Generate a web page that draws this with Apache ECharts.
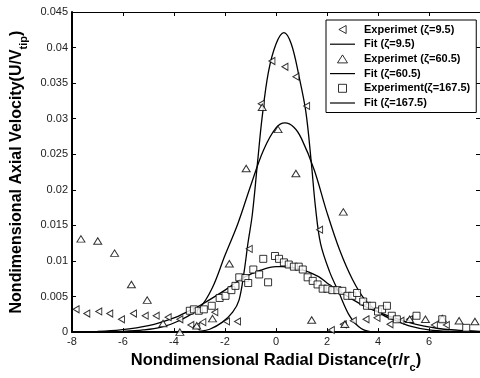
<!DOCTYPE html>
<html><head><meta charset="utf-8">
<script src="https://cdn.jsdelivr.net/npm/echarts@6/dist/echarts.min.js"></script>
<style>html,body{margin:0;padding:0;background:#fff}#c{width:480px;height:378px}</style>
</head><body><div id="c"></div>
<script>
// Experiment zeta=9.5 (left-pointing triangles)
const exp95 = [[-7.84,0.0032],[-7.42,0.0026],[-6.95,0.0029],[-6.52,0.0026],[-6.06,0.0018],[-5.59,0.0026],[-5.13,0.0023],[-4.70,0.0023],[-4.23,0.0021],[-3.77,0.0018],[-3.34,0.0010],[-3.11,0.0008],[-2.87,0.0014],[-2.40,0.0028],[-1.94,0.0015],[-1.51,0.0015],
 [-1.05,0.0117],[-0.58,0.0321],[-0.16,0.0381],[0.35,0.0373],[0.78,0.0359],[1.20,0.0318],[1.71,0.0144],
 [2.17,0.0003],[2.64,0.0011],[3.03,0.0016],[3.53,0.0018],[3.96,0.0020],[4.47,0.0011],[4.90,0.0016],[5.24,0.0018],[6.21,0.0010],[6.68,0.0010]];
// Experiment zeta=60.5 (up triangles)
const exp605 = [[-7.65,0.0131],[-6.99,0.0128],[-6.33,0.0111],[-5.67,0.0067],[-5.05,0.0045],[-4.43,0.0012],[-3.77,0.0000],[-3.11,0.0009],[-2.49,0.0019],[-1.83,0.0096],
 [-1.17,0.0230],[-0.54,0.0316],[0.08,0.0285],[0.78,0.0223],[1.40,0.0017],[2.64,0.0169],[2.70,0.0011],
 [5.24,0.0018],[5.86,0.0018],[6.52,0.0019],[7.18,0.0016],[7.80,0.0015]];
// Experiment zeta=167.5 (squares)
const exp1675 = [[-3.38,0.0030],[-3.22,0.0032],[-3.03,0.0030],[-2.83,0.0032],[-2.52,0.0037],[-2.21,0.0048],[-1.98,0.0051],[-1.75,0.0059],[-1.59,0.0065],[-1.44,0.0077],[-1.20,0.0076],[-1.09,0.0069],[-0.89,0.0088],[-0.66,0.0081],[-0.50,0.0103],[-0.31,0.0070],[-0.04,0.0107],[0.12,0.0103],[0.31,0.0098],[0.50,0.0095],[0.70,0.0092],[0.89,0.0092],[1.05,0.0088],[1.24,0.0077],[1.44,0.0072],[1.63,0.0067],[1.83,0.0061],[2.02,0.0061],[2.21,0.0059],[2.41,0.0059],[2.60,0.0058],[2.80,0.0051],[2.99,0.0051],[3.18,0.0055],[3.42,0.0043],[3.57,0.0037],[3.77,0.0037],[4.00,0.0029],[4.16,0.0032],[4.35,0.0037],[4.54,0.0023],[4.74,0.0018],[5.51,0.0023],[6.52,0.0018],[7.46,0.0006]];
// Fit curves
const fit95 = [[-3.4,0],[-3.0,0.0001],[-2.6,0.0004],[-2.1,0.0014],[-1.7,0.0028],[-1.45,0.0045],[-1.25,0.0085],[-1.1,0.0125],[-0.93,0.0165],[-0.72,0.024],[-0.55,0.0300],[-0.3,0.0365],[0,0.0405],[0.31,0.0421],[0.6,0.0405],[0.9,0.036],[1.17,0.031],[1.38,0.024],[1.55,0.0175],[1.75,0.0124],[2.1,0.0085],[2.45,0.0057],[2.9,0.0022],[3.34,0.0005],[3.8,0]];
const fit605 = [[-6,0.0001],[-5.2,0.0003],[-4.5,0.0007],[-3.8,0.0016],[-3.0,0.0034],[-2.5,0.0062],[-2.0,0.0108],[-1.5,0.0152],[-1.0,0.0205],[-0.5,0.0255],[0,0.0287],[0.35,0.0294],[0.7,0.0288],[1.0,0.0272],[1.5,0.0228],[2.0,0.0168],[2.5,0.0115],[3.0,0.0074],[3.5,0.0045],[4.1,0.0026],[4.7,0.0016],[5.3,0.0008],[6.0,0.0003],[6.8,0.0001]];
const fit1675 = [[-7,0.0001],[-6.1,0.0003],[-5,0.0009],[-4,0.002],[-3.4,0.003],[-3,0.0037],[-2,0.0059],[-1.3,0.0076],[-0.6,0.0087],[0,0.0092],[0.25,0.0092],[1,0.0088],[1.67,0.0078],[2.0,0.0069],[2.5,0.0057],[3.0,0.0046],[3.5,0.0036],[4.0,0.0028],[4.9,0.0017],[5.5,0.0011],[6.6,0.0004],[7.5,0.0002],[8,0.0001]];
const names = ['Experimet (ζ=9.5)','Fit (ζ=9.5)','Experimet (ζ=60.5)','Fit (ζ=60.5)','Experiment(ζ=167.5)','Fit (ζ=167.5)'];

const FONT = '"Liberation Sans", Arial, sans-serif';
const LT = 'path://M10,0 L0,5.5 L10,11 Z';
const UT = 'path://M5,0 L10,8 L0,8 Z';
const SQ = 'path://M0,0 L10,0 L10,10 L0,10 Z';
const LN = 'path://M0,0 L25,0 L25,1.2 L0,1.2 Z';
const hollow = {color:'#fff', borderColor:'#000', borderWidth:1};
const lineSt = {color:'#000', width:1.3};

const chart = echarts.init(document.getElementById('c'), null, {renderer:'canvas'});
const axisCommon = {min:-8, max:8, interval:2};
chart.setOption({
  animation:false,
  backgroundColor:'#fff',
  grid:{left:72, right:-3, top:12, bottom:38, containLabel:false},
  textStyle:{fontFamily:FONT},
  xAxis:[
    {type:'value', position:'bottom', ...axisCommon,
     axisLine:{show:true, onZero:false, lineStyle:{color:'#000', width:2}},
     axisTick:{show:true, inside:true, length:4, lineStyle:{color:'#000'}},
     axisLabel:{color:'#222', fontSize:11, fontFamily:FONT, margin:4, showMaxLabel:false},
     splitLine:{show:false},
     name:'Nondimensional Radial Distance(r/r{s|c})', nameLocation:'middle', nameGap:14,
     nameTextStyle:{color:'#000', fontSize:16.5, fontWeight:'bold', fontFamily:FONT,
       rich:{s:{fontSize:11, fontWeight:'bold', fontFamily:FONT, padding:[14,0,0,0], color:'#000'}}}},
    {type:'value', position:'top', ...axisCommon,
     axisLine:{show:true, onZero:false, lineStyle:{color:'#000', width:1}},
     axisTick:{show:true, inside:true, length:4, lineStyle:{color:'#000'}},
     axisLabel:{show:false}, splitLine:{show:false}}
  ],
  yAxis:[
    {type:'value', position:'left', min:0, max:0.045, interval:0.005,
     axisLine:{show:true, onZero:false, lineStyle:{color:'#000', width:2}},
     axisTick:{show:true, inside:true, length:4, lineStyle:{color:'#000'}},
     axisLabel:{color:'#222', fontSize:11, fontFamily:FONT, margin:4},
     splitLine:{show:false},
     name:'Nondimensional Axial Velocity(U/V{s|tip})', nameLocation:'middle', nameGap:34, nameRotate:90,
     nameTextStyle:{color:'#000', fontSize:16, fontWeight:'bold', fontFamily:FONT,
       rich:{s:{fontSize:11, fontWeight:'bold', fontFamily:FONT, padding:[14,0,0,0], color:'#000'}}}},
    {type:'value', position:'right', min:0, max:0.045, interval:0.005,
     axisLine:{show:true, onZero:false, lineStyle:{color:'#000', width:1}},
     axisTick:{show:true, inside:true, length:4, lineStyle:{color:'#000'}},
     axisLabel:{show:false}, splitLine:{show:false}}
  ],
  legend:{
    orient:'vertical', left:326, top:20,
    backgroundColor:'#fff', borderColor:'#000', borderWidth:1,
    padding:[4,6,4,4], itemWidth:25, itemHeight:8, itemGap:3.7,
    textStyle:{color:'#000', fontSize:11, fontWeight:'bold', fontFamily:FONT, padding:[0,0,0,4]},
    data:[
      {name:names[0], icon:LT, itemStyle:hollow},
      {name:names[1], icon:LN, itemStyle:{color:'#000', borderWidth:0}},
      {name:names[2], icon:UT, itemStyle:hollow},
      {name:names[3], icon:LN, itemStyle:{color:'#000', borderWidth:0}},
      {name:names[4], icon:SQ, itemStyle:hollow},
      {name:names[5], icon:LN, itemStyle:{color:'#000', borderWidth:0}}
    ]
  },
  series:[
    {name:names[0], type:'scatter', data:exp95, symbol:LT, symbolSize:[6,7], itemStyle:hollow, z:3},
    {name:names[1], type:'line', data:fit95, smooth:0.35, symbol:'none', showSymbol:false, lineStyle:lineSt, itemStyle:{color:'#000'}},
    {name:names[2], type:'scatter', data:exp605, symbol:UT, symbolSize:[8,6.5], itemStyle:hollow, z:3},
    {name:names[3], type:'line', data:fit605, smooth:0.35, symbol:'none', showSymbol:false, lineStyle:lineSt, itemStyle:{color:'#000'}},
    {name:names[4], type:'scatter', data:exp1675, symbol:SQ, symbolSize:[7,7], itemStyle:hollow, z:3},
    {name:names[5], type:'line', data:fit1675, smooth:0.35, symbol:'none', showSymbol:false, lineStyle:lineSt, itemStyle:{color:'#000'}}
  ]
});
</script></body></html>
